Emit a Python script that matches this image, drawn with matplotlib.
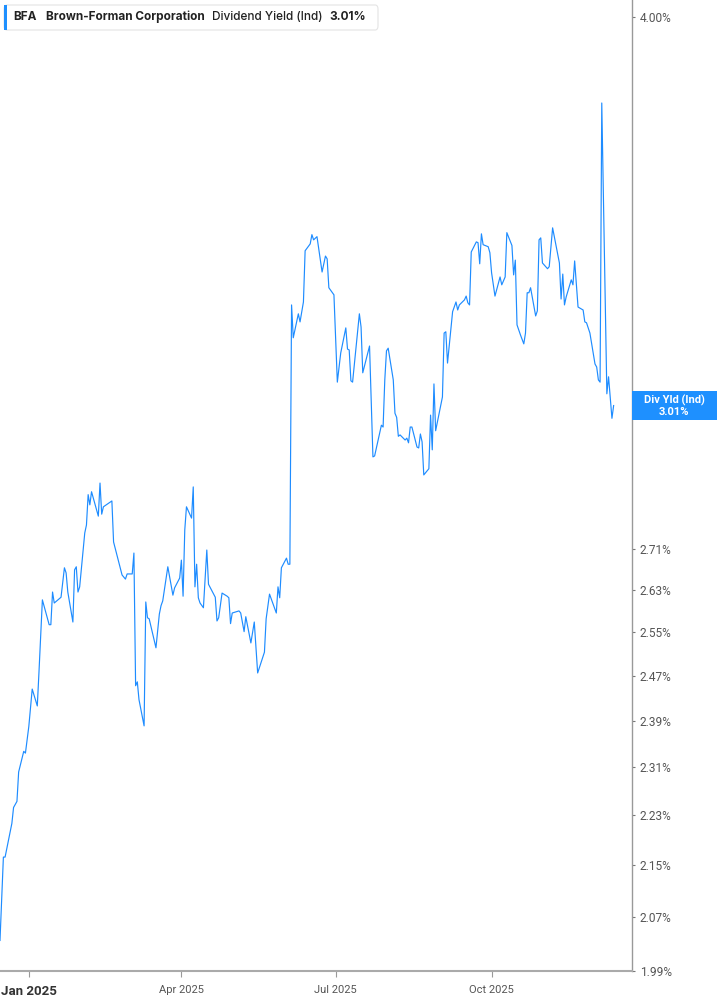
import matplotlib
matplotlib.use("Agg")
import matplotlib.pyplot as plt
import matplotlib.dates as mdates
from matplotlib.patches import Rectangle, FancyBboxPatch
from datetime import datetime
import numpy as np

dates = [
    "2024-12-15", "2024-12-17", "2024-12-18", "2024-12-20", "2024-12-22", "2024-12-23",
    "2024-12-25", "2024-12-26", "2024-12-29", "2024-12-30", "2025-01-01", "2025-01-03",
    "2025-01-06", "2025-01-07", "2025-01-09", "2025-01-13", "2025-01-14", "2025-01-15",
    "2025-01-16", "2025-01-20", "2025-01-22", "2025-01-23", "2025-01-24", "2025-01-27",
    "2025-01-28", "2025-01-29", "2025-01-30", "2025-01-31", "2025-02-03", "2025-02-04",
    "2025-02-05", "2025-02-06", "2025-02-07", "2025-02-11", "2025-02-12", "2025-02-13",
    "2025-02-14", "2025-02-19", "2025-02-20", "2025-02-25", "2025-02-27", "2025-02-28",
    "2025-03-03", "2025-03-04", "2025-03-05", "2025-03-06", "2025-03-07", "2025-03-10",
    "2025-03-11", "2025-03-12", "2025-03-13", "2025-03-17", "2025-03-19", "2025-03-20",
    "2025-03-21", "2025-03-24", "2025-03-27", "2025-03-28", "2025-03-31", "2025-04-01",
    "2025-04-02", "2025-04-03", "2025-04-04", "2025-04-07", "2025-04-08", "2025-04-09",
    "2025-04-10", "2025-04-11", "2025-04-12", "2025-04-14", "2025-04-16", "2025-04-17",
    "2025-04-21", "2025-04-22", "2025-04-23", "2025-04-25", "2025-04-28", "2025-04-29",
    "2025-04-30", "2025-05-01", "2025-05-05", "2025-05-06", "2025-05-08", "2025-05-09",
    "2025-05-12", "2025-05-14", "2025-05-16", "2025-05-20", "2025-05-21", "2025-05-23",
    "2025-05-27", "2025-05-28", "2025-05-29", "2025-05-30", "2025-06-02", "2025-06-03",
    "2025-06-04", "2025-06-05", "2025-06-06", "2025-06-09", "2025-06-10", "2025-06-12",
    "2025-06-13", "2025-06-16", "2025-06-17", "2025-06-18", "2025-06-20", "2025-06-23",
    "2025-06-25", "2025-06-26", "2025-06-27", "2025-06-30", "2025-07-02", "2025-07-04",
    "2025-07-07", "2025-07-08", "2025-07-09", "2025-07-10", "2025-07-11", "2025-07-15",
    "2025-07-16", "2025-07-17", "2025-07-21", "2025-07-23", "2025-07-24", "2025-07-28",
    "2025-07-29", "2025-07-30", "2025-07-31", "2025-08-01", "2025-08-04", "2025-08-05",
    "2025-08-06", "2025-08-07", "2025-08-08", "2025-08-11", "2025-08-12", "2025-08-13",
    "2025-08-14", "2025-08-15", "2025-08-18", "2025-08-19", "2025-08-20", "2025-08-21",
    "2025-08-22", "2025-08-25", "2025-08-26", "2025-08-27", "2025-08-28", "2025-08-29",
    "2025-09-02", "2025-09-03", "2025-09-04", "2025-09-05", "2025-09-08", "2025-09-10",
    "2025-09-11", "2025-09-12", "2025-09-15", "2025-09-16", "2025-09-17", "2025-09-18",
    "2025-09-19", "2025-09-22", "2025-09-23", "2025-09-24", "2025-09-25", "2025-09-26",
    "2025-09-29", "2025-09-30", "2025-10-01", "2025-10-03", "2025-10-06", "2025-10-07",
    "2025-10-09", "2025-10-10", "2025-10-13", "2025-10-14", "2025-10-15", "2025-10-16",
    "2025-10-18", "2025-10-20", "2025-10-21", "2025-10-22", "2025-10-23", "2025-10-24",
    "2025-10-27", "2025-10-28", "2025-10-29", "2025-10-30", "2025-10-31", "2025-11-03",
    "2025-11-04", "2025-11-06", "2025-11-10", "2025-11-11", "2025-11-12", "2025-11-13",
    "2025-11-14", "2025-11-17", "2025-11-18", "2025-11-19", "2025-11-21", "2025-11-24",
    "2025-11-25", "2025-11-26", "2025-11-28", "2025-12-01", "2025-12-02", "2025-12-03",
    "2025-12-04", "2025-12-05", "2025-12-08", "2025-12-09", "2025-12-11", "2025-12-12",
]

div_yield = [
    2.035, 2.163, 2.163, 2.190, 2.217, 2.243,
    2.253, 2.302, 2.337, 2.334, 2.380, 2.446,
    2.416, 2.477, 2.611, 2.564, 2.564, 2.626,
    2.605, 2.616, 2.673, 2.663, 2.626, 2.569,
    2.669, 2.675, 2.626, 2.636, 2.742, 2.758,
    2.820, 2.799, 2.826, 2.776, 2.844, 2.780,
    2.795, 2.807, 2.724, 2.659, 2.651, 2.661,
    2.661, 2.702, 2.452, 2.459, 2.427, 2.381,
    2.607, 2.577, 2.575, 2.521, 2.584, 2.600,
    2.609, 2.675, 2.620, 2.634, 2.653, 2.688,
    2.618, 2.748, 2.795, 2.772, 2.836, 2.636,
    2.680, 2.615, 2.605, 2.596, 2.708, 2.641,
    2.616, 2.571, 2.577, 2.624, 2.618, 2.615,
    2.566, 2.586, 2.590, 2.586, 2.551, 2.579,
    2.530, 2.569, 2.475, 2.513, 2.575, 2.622,
    2.586, 2.636, 2.615, 2.673, 2.692, 2.680,
    2.680, 3.240, 3.163, 3.219, 3.200, 3.247,
    3.371, 3.388, 3.411, 3.398, 3.406, 3.319,
    3.358, 3.351, 3.281, 3.264, 3.062, 3.128,
    3.186, 3.137, 3.135, 3.065, 3.062, 3.219,
    3.188, 3.083, 3.144, 2.899, 2.901, 2.967,
    2.963, 3.067, 3.133, 3.139, 3.067, 2.993,
    2.984, 2.943, 2.946, 2.935, 2.939, 2.929,
    2.963, 2.963, 2.920, 2.918, 2.948, 2.931,
    2.861, 2.874, 2.989, 2.914, 3.058, 2.955,
    3.029, 3.174, 3.177, 3.105, 3.224, 3.247,
    3.228, 3.240, 3.252, 3.261, 3.245, 3.240,
    3.368, 3.393, 3.391, 3.339, 3.413, 3.386,
    3.381, 3.366, 3.317, 3.261, 3.307, 3.288,
    3.307, 3.416, 3.384, 3.312, 3.348, 3.193,
    3.170, 3.149, 3.174, 3.269, 3.269, 3.281,
    3.214, 3.226, 3.398, 3.403, 3.341, 3.327,
    3.332, 3.428, 3.341, 3.254, 3.314, 3.240,
    3.259, 3.300, 3.288, 3.346, 3.235, 3.228,
    3.200, 3.198, 3.174, 3.103, 3.096, 3.067,
    3.062, 3.756, 3.036, 3.074, 2.982, 3.010,
]

ytick_values = [1.99, 2.07, 2.15, 2.23, 2.31, 2.39, 2.47, 2.55, 2.63, 2.71, 4.00]
xtick_dates = ["2025-01-01", "2025-04-01", "2025-07-01", "2025-10-01"]
xtick_labels = ["Jan 2025", "Apr 2025", "Jul 2025", "Oct 2025"]

ticker = "BFA"
company = "Brown-Forman Corporation"
metric = "Dividend Yield (Ind)"
last_value = 3.01
tag_label = "Div Yld (Ind)"

LINE = "#1e8cff"
W, H = 717, 1005

fig = plt.figure(figsize=(W / 100, H / 100), dpi=100)
fig.patch.set_facecolor("white")
ax = fig.add_axes([0, (H - 971) / H, 632 / W, 971 / H])

x = [datetime.strptime(d, "%Y-%m-%d") for d in dates]
ax.plot(x, div_yield, color=LINE, lw=0.85, solid_joinstyle="round")

ax.set_yscale("log")
ax.set_ylim(1.99, 4.05)
ax.set_xlim(datetime(2024, 12, 15, 0), datetime(2025, 12, 22, 20))

ax.yaxis.tick_right()
ax.set_yticks(ytick_values)
ax.set_yticklabels([f"{v:.2f}%" for v in ytick_values])
ax.yaxis.set_minor_locator(matplotlib.ticker.NullLocator())
ax.tick_params(axis="y", which="major", length=2.5, width=0.8, color="#777777",
               pad=3, labelsize=8.6, labelcolor="#555555")
for lab in ax.get_yticklabels():
    lab.set_fontfamily("Roboto")

xt = [datetime.strptime(d, "%Y-%m-%d") for d in xtick_dates]
ax.set_xticks(xt)
ax.set_xticklabels(xtick_labels)
ax.tick_params(axis="x", length=4, width=0.8, color="#999999", pad=6,
               labelsize=8, labelcolor="#555555")
for i, lab in enumerate(ax.get_xticklabels()):
    lab.set_fontfamily("Roboto")
    if i == 0:
        lab.set_fontweight("bold")
        lab.set_fontsize(9.5)
        lab.set_color("#333333")

for s in ["top", "left"]:
    ax.spines[s].set_visible(False)
ax.spines["right"].set_color("#999999")
ax.spines["bottom"].set_color("#aaaaaa")
ax.spines["right"].set_linewidth(1.0)
ax.spines["bottom"].set_linewidth(1.5)
ax.grid(False)

# current value tag
fig.canvas.draw()
ydisp = ax.transData.transform((0, last_value))[1]
yc = ydisp / fig.bbox.height
hbox = 29 / H
fig.patches.append(Rectangle((632 / W, yc - hbox / 2), (W - 632) / W, hbox,
                             transform=fig.transFigure, facecolor="#1e90ff",
                             edgecolor="none", zorder=5))
fig.text(674 / W, yc + 5.5 / H, tag_label, color="white", fontsize=8,
         fontweight="bold", ha="center", va="center", family="Roboto", zorder=6)
fig.text(674 / W, yc - 6 / H, f"{last_value:.2f}%", color="white", fontsize=8,
         fontweight="bold", ha="center", va="center", family="Roboto", zorder=6)

# header box
fig.patches.append(FancyBboxPatch((4 / W, 1 - 30 / H), 374 / W, 25 / H,
                                  boxstyle="round,pad=0,rounding_size=0.004",
                                  transform=fig.transFigure, facecolor="white",
                                  edgecolor="#e4e4e4", lw=0.8, zorder=5))
fig.patches.append(Rectangle((4 / W, 1 - 30 / H), 3 / W, 25 / H,
                             transform=fig.transFigure, facecolor="#1e90ff",
                             edgecolor="none", zorder=6))
ty = 1 - 16.5 / H
fig.text(13 / W, ty, ticker, fontsize=8.5, fontweight="bold", color="#222222",
         va="center", family="Inter", zorder=7)
fig.text(46 / W, ty, company, fontsize=8.5, fontweight="bold", color="#222222",
         va="center", family="Inter", zorder=7)
fig.text(212 / W, ty, metric, fontsize=8.5, fontweight="medium", color="#222222",
         va="center", family="Inter", zorder=7)
fig.text(329 / W, ty, f"{last_value:.2f}%", fontsize=8.5, fontweight="bold",
         color="#222222", va="center", family="Inter", zorder=7)

fig.savefig("out.png", dpi=100, facecolor="white")
